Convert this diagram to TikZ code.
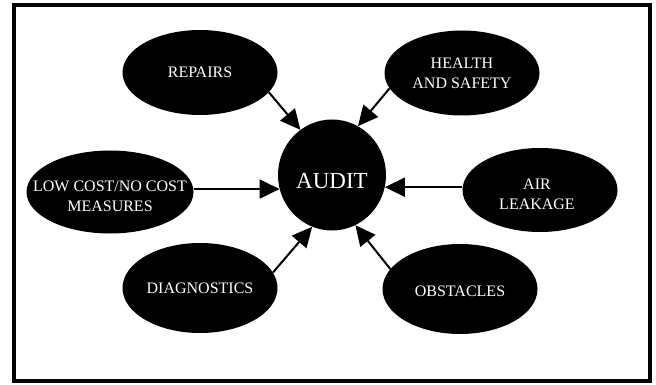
\documentclass[tikz,border=0pt]{standalone}
\usepackage{fontspec}
\setmainfont{Liberation Serif}
\usetikzlibrary{shapes.geometric,arrows.meta}

\begin{document}
\begin{tikzpicture}[x=1pt,y=-1pt]
%----------globos---------
\tikzset{globo/.style={
ellipse,
fill=black,
inner sep=0pt,
minimum width=155pt,
minimum height=86pt
},
texto/.style={
text=white,
align=center,
font=\fontsize{16}{20}\selectfont
},
flecha/.style={
line width=2pt,
-{Triangle[length=20pt,width=19pt]}
}};

\useasboundingbox (0,0) rectangle (656,385);

% -----------marco----------------
\draw [line width=4pt](13.7,4.7) rectangle (649.7,381.3);

%------------ globos---------------
\node [globo,minimum width=108pt,minimum height=111pt,
  label={[texto,font=\fontsize{23}{26}\selectfont,yshift=-6pt]center:AUDIT}] (audit) at (332,175) {};
\node [globo,minimum height=85pt,label={[texto]center:REPAIRS}] (repairs) at (200,72.5) {};
\node [globo,minimum height=85pt,label={[texto]center:HEALTH\\AND SAFETY}] (health) at (462,73) {};
\node [globo,minimum width=167pt,minimum height=83pt,
  label={[texto,yshift=-4pt]center:LOW COST/NO COST\\MEASURES}] (lowcost) at (110,192) {};
\node [globo,minimum height=84pt,label={[texto,xshift=-3pt,yshift=-4pt]center:AIR\\LEAKAGE}] (air) at (540,190) {};
\node [globo,minimum height=90pt,label={[texto]center:DIAGNOSTICS}] (diag) at (200,288) {};
\node [globo,minimum height=90pt,label={[texto,yshift=-2pt]center:OBSTACLES}] (obst) at (460,289) {};

% -----------flechas----------------
\draw [flecha](repairs.-16)--(audit.125);
\draw [flecha](health.-168)--(audit.62);
\draw [flecha](lowcost.east |- audit.195)--(audit.195);
\draw [flecha](air.west |- audit.-13)--(audit.-13);
\draw [flecha](diag.12)--(audit.249);
\draw [flecha](obst.164)--(audit.-65);
\end{tikzpicture}
\end{document}
